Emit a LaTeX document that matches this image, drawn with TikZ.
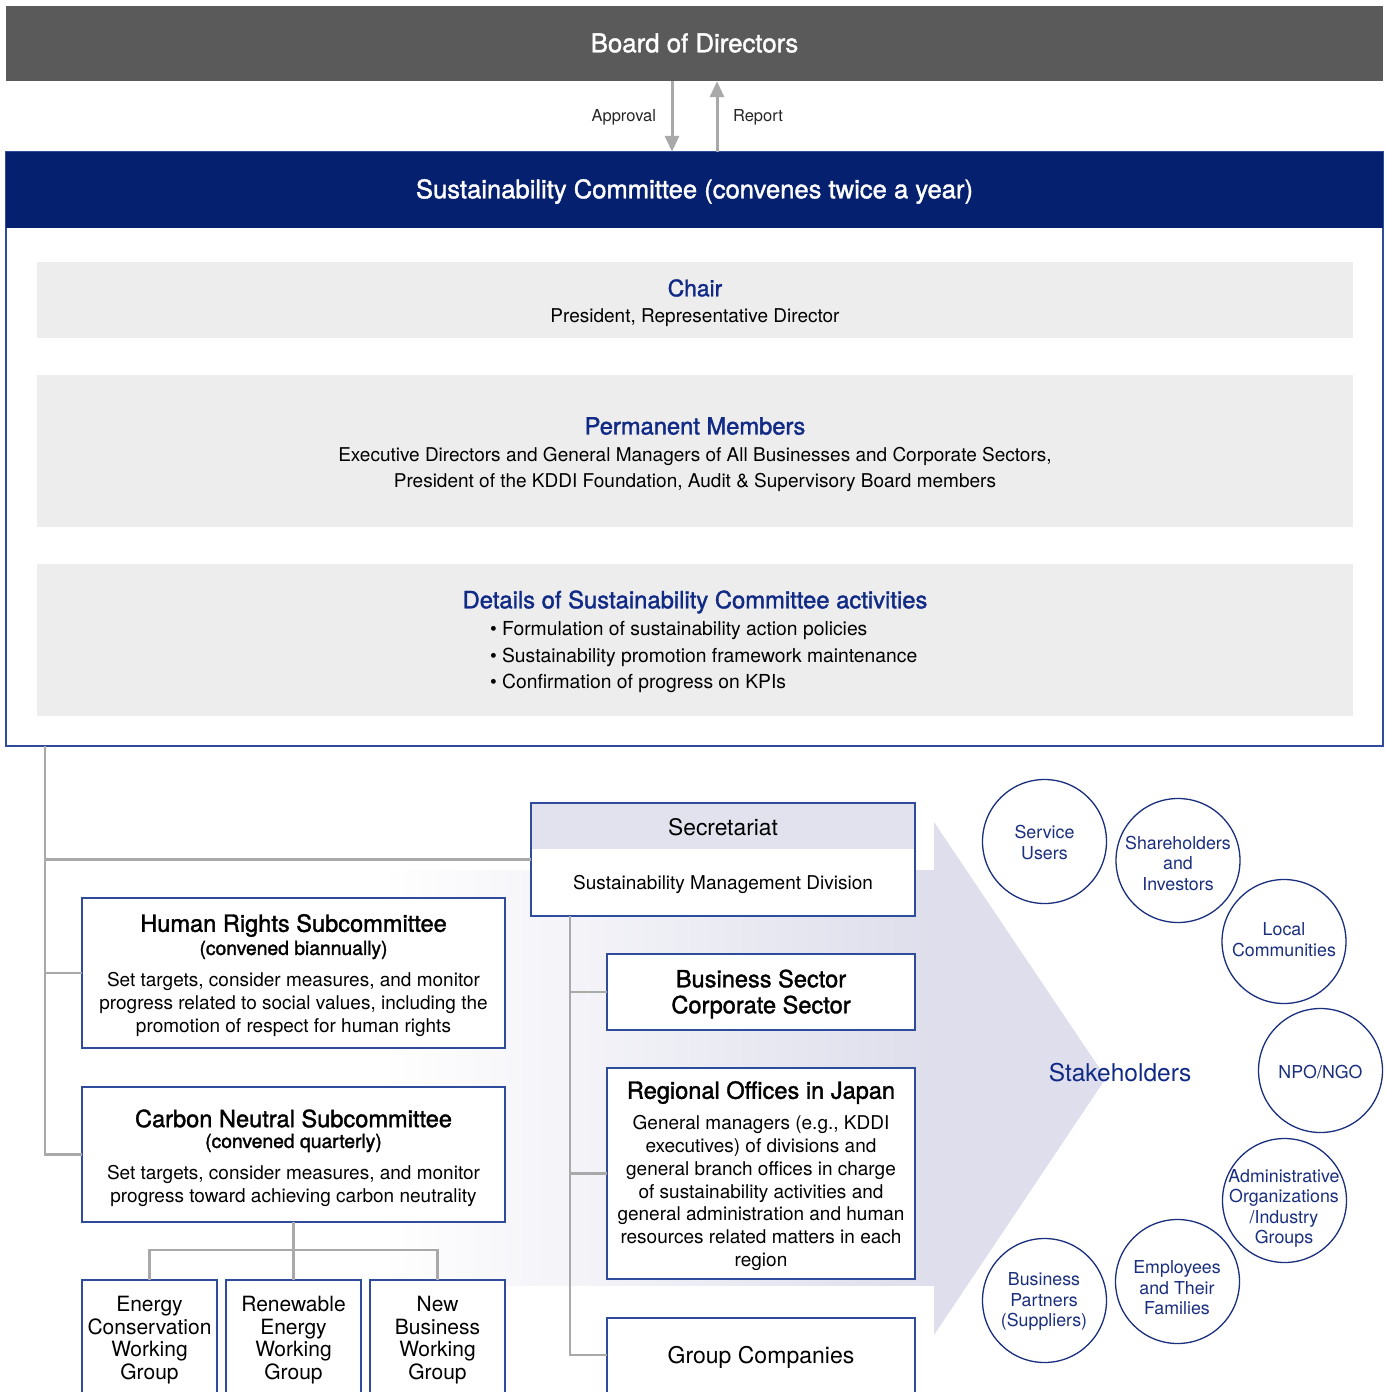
\documentclass[tikz,border=0pt]{standalone}
\usepackage{fontspec}
\setmainfont{TeX Gyre Heros}
\newfontfamily\medfont[FakeBold=1.5]{TeX Gyre Heros}
\usetikzlibrary{arrows.meta}
\definecolor{boardgray}{HTML}{5B5A5B}
\definecolor{headnavy}{HTML}{05206E}
\definecolor{boxline}{HTML}{2E4B9C}
\definecolor{titlenavy}{HTML}{102A85}
\definecolor{panelgray}{HTML}{EDEDED}
\definecolor{conngray}{HTML}{A9A9A9}
\definecolor{lav}{HTML}{DEDEEC}
\definecolor{secband}{HTML}{E2E2EE}
\definecolor{circnavy}{HTML}{1B2F7F}
\newcommand\myfs[2]{\fontsize{#1}{#2}\selectfont}
\begin{document}
\begin{tikzpicture}[x=1pt,y=-1pt,
  box/.style={rectangle, draw=boxline, line width=1.3pt, fill=white, inner sep=0pt, outer sep=0pt},
  panel/.style={rectangle, fill=panelgray, inner sep=0pt, outer sep=0pt},
  conn/.style={draw=conngray, line width=2.5pt},
  txt/.style={inner sep=0pt, outer sep=0pt, align=center},
  circ/.style={circle, draw=circnavy, line width=1.3pt, minimum size=124pt, inner sep=0pt},
  ctext/.style={txt, text=circnavy, font=\myfs{17.8}{20.5}},
  vert/.style={-{Triangle[width=14pt,length=16pt]}, draw=conngray, fill=conngray, line width=3pt}
]
\useasboundingbox (0,0) rectangle (1386,1392);
\fill[white] (0,0) rectangle (1386,1392);
\clip (0,0) rectangle (1386,1392);

% Big stakeholder arrow
\shade[left color=white, right color=lav] (380,870) rectangle (934,1285);
\fill[lav] (934,822) -- (1106,1078) -- (934,1335) -- cycle;

% Board
\node[rectangle, fill=boardgray, minimum width=1377pt, minimum height=75pt, inner sep=0pt] (board) at (694.5,43.5) {};
\node[txt, text=white, font=\medfont\myfs{25.8}{30}] (boardt) at (694.5,43) {Board of Directors};

% Committee
\draw[boxline, line width=1.3pt] (6,152) rectangle (1383,746);
\node[rectangle, fill=headnavy, minimum width=1377pt, minimum height=76pt, inner sep=0pt] (head) at (694.5,190) {};
\node[txt, text=white, font=\medfont\myfs{25.6}{30}] (headt) at (694.5,191.5) {Sustainability Committee (convenes twice a year)};

\draw[vert] ([xshift=-22.5pt]board.south) -- ([xshift=-22.5pt]head.north);
\draw[vert] ([xshift=22.5pt]head.north) -- ([xshift=22.5pt]board.south);
\node[txt, anchor=east, font=\myfs{16.5}{20}, text=black!85] (apr) at (656,117) {Approval};
\node[txt, anchor=west, font=\myfs{16.5}{20}, text=black!85] (rep) at (733,117) {Report};

% Panels
\node[panel, minimum width=1316pt, minimum height=76pt] (chair) at (695,300) {};
\node[txt, text=titlenavy, font=\medfont\myfs{22.8}{26}] (chairt) at (695,288) {Chair};
\node[txt, font=\myfs{19}{22}] (chairb) at (695,317.5) {President, Representative Director};

\node[panel, minimum width=1316pt, minimum height=152pt] (perm) at (695,451) {};
\node[txt, text=titlenavy, font=\medfont\myfs{23.7}{27}] (permt) at (695,426) {Permanent Members};
\node[txt, font=\myfs{19}{26}] (permb) at (695,469) {Executive Directors and General Managers of All Businesses and Corporate Sectors,\\President of the KDDI Foundation, Audit \& Supervisory Board members};

\node[panel, minimum width=1316pt, minimum height=152pt] (det) at (695,640) {};
\node[txt, text=titlenavy, font=\medfont\myfs{23.8}{27}] (dett) at (695,602) {Details of Sustainability Committee activities};
\node[txt, align=left, anchor=west, font=\myfs{19.3}{26.5}] (detb) at (490,657.5) {\textbullet\ Formulation of sustainability action policies\\\textbullet\ Sustainability promotion framework maintenance\\\textbullet\ Confirmation of progress on KPIs};

% Secretariat
\node[box, minimum width=384pt, minimum height=113pt] (sec) at (723,859.5) {};
\fill[secband] ([shift={(0.65pt,-0.65pt)}]sec.north west) rectangle ([shift={(-0.65pt,0pt)}]sec.north east |- 0,849);
\node[txt, font=\myfs{22.8}{26}] (sect) at (723,827) {Secretariat};
\node[txt, font=\myfs{19}{22}] (secb) at (723,884) {Sustainability Management Division};

% Left subcommittees
\node[box, minimum width=423pt, minimum height=150pt] (hr) at (293.5,973) {};
\node[txt, font=\medfont\myfs{23.6}{27}] (hrt) at (293.5,925.5) {Human Rights Subcommittee};
\node[txt, font=\medfont\myfs{19.3}{22}] (hrs) at (293.5,950) {(convened biannually)};
\node[txt, font=\myfs{19}{23}] (hrb) at (293.5,1004) {Set targets, consider measures, and monitor\\progress related to social values, including the\\promotion of respect for human rights};

\node[box, minimum width=423pt, minimum height=135pt] (cn) at (293.5,1154.5) {};
\node[txt, font=\medfont\myfs{23.6}{27}] (cnt) at (293.5,1118.5) {Carbon Neutral Subcommittee};
\node[txt, font=\medfont\myfs{19.3}{22}] (cns) at (293.5,1143) {(convened quarterly)};
\node[txt, font=\myfs{19}{23}] (cnb) at (293.5,1185.5) {Set targets, consider measures, and monitor\\progress toward achieving carbon neutrality};

% Working groups
\node[box, minimum width=135pt, minimum height=150pt] (wg1) at (149.5,1355) {};
\node[box, minimum width=135pt, minimum height=150pt] (wg2) at (293.5,1355) {};
\node[box, minimum width=135pt, minimum height=150pt] (wg3) at (437.5,1355) {};
\node[txt, font=\myfs{21}{22.7}] (wg1t) at (149.5,1340) {Energy\\Conservation\\Working\\Group};
\node[txt, font=\myfs{21}{22.7}] (wg2t) at (293.5,1340) {Renewable\\Energy\\Working\\Group};
\node[txt, font=\myfs{21}{22.7}] (wg3t) at (437.5,1340) {New\\Business\\Working\\Group};
\coordinate (wgbus) at (293.5,1250);
\draw[conn] (cn.south) -- (wg2.north);
\draw[conn] (wg1.north) |- (wgbus) -| (wg3.north);

% Right column
\node[box, minimum width=308pt, minimum height=76pt] (bs) at (761,992) {};
\node[txt, font=\medfont\myfs{23.6}{26}] (bst) at (761,994) {Business Sector\\Corporate Sector};

\node[box, minimum width=308pt, minimum height=211pt] (ro) at (761,1173.5) {};
\node[txt, font=\medfont\myfs{23.6}{27}] (rot) at (761,1092.5) {Regional Offices in Japan};
\node[txt, font=\myfs{19}{22.7}] (rob) at (761,1193) {General managers (e.g., KDDI\\executives) of divisions and\\general branch offices in charge\\of sustainability activities and\\general administration and human\\resources related matters in each\\region};

\node[box, minimum width=308pt, minimum height=74pt] (gc) at (761,1355) {};
\fill[white] (607.7,1380) rectangle (914.3,1400);
\draw[boxline, line width=1.3pt] (607,1380) -- (607,1400) (915,1380) -- (915,1400);
\node[txt, font=\myfs{23}{26}] (gct) at (761,1357.5) {Group Companies};

% Connectors
\coordinate (ctop) at (45,746);
\draw[conn] (ctop) |- (cn.west);
\draw[conn] (ctop) |- (hr.west);
\draw[conn] (ctop) |- (sec.west);
\coordinate (strunk) at (570,916);
\draw[conn] (strunk) |- (gc.west);
\draw[conn] (strunk) |- (ro.west);
\draw[conn] (strunk) |- (bs.west);

% Stakeholders
\node[txt, text=titlenavy, font=\myfs{24.5}{28}] (stk) at (1120,1073) {Stakeholders};
\node[circ] (c1) at (1044.5,841.5) {};
\node[circ] (c2) at (1178,860.5) {};
\node[circ] (c3) at (1284,941.5) {};
\node[circ] (c4) at (1320.5,1070.5) {};
\node[circ] (c5) at (1284.5,1200.5) {};
\node[circ] (c6) at (1177.5,1281.5) {};
\node[circ] (c7) at (1044.5,1300.5) {};
\node[ctext] (c1t) at (1044.5,842.5) {Service\\Users};
\node[ctext] (c2t) at (1178,863) {Shareholders\\and\\Investors};
\node[ctext] (c3t) at (1284,939.5) {Local\\Communities};
\node[ctext] (c4t) at (1320.5,1072) {NPO/NGO};
\node[ctext] (c5t) at (1284,1208.5) {Administrative\\Organizations\\/Industry\\Groups};
\node[ctext] (c6t) at (1177,1288) {Employees\\and Their\\Families};
\node[ctext] (c7t) at (1044,1301.5) {Business\\Partners\\(Suppliers)};
\end{tikzpicture}
\end{document}
